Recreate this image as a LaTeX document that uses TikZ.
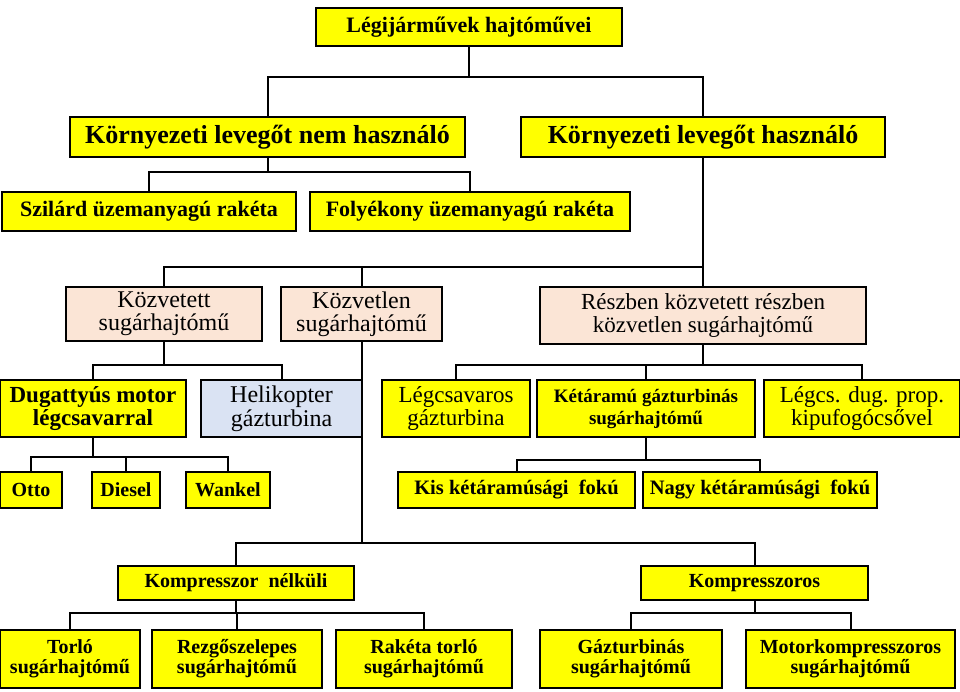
\documentclass[tikz,border=0pt]{standalone}
\usepackage{fontspec}
\setmainfont{Liberation Serif}
\definecolor{yel}{HTML}{FFFF00}
\definecolor{pch}{HTML}{FBE5D6}
\definecolor{blu}{HTML}{DAE3F3}
\tikzset{
 bx/.style={draw=black,line width=2pt,inner sep=0pt,outer sep=0pt,align=center,font=\bfseries,fill=yel},
 pbox/.style={bx,fill=pch,font=\normalfont},
 hbox/.style={bx,fill=blu,font=\normalfont},
 ln/.style={line width=2pt}
}
\newcommand\mybx[7]{\node[#6,minimum width={#4-#2},minimum height={#5-#3}] (#1) at ({(#2+#4)/2},{(#3+#5)/2}) {#7};}
\newcommand\fs[1]{\fontsize{#1}{#1}\selectfont}
\begin{document}
\begin{tikzpicture}[x=1pt,y=-1pt]
\useasboundingbox (0,0) rectangle (960,692);
\fill[white] (0,0) rectangle (960,692);
\draw[ln] (469,46) -- (469,77);
\mybx{t}{316}{8}{622}{46}{bx,font=\bfseries\fs{22}}{Légijárművek hajtóművei}
\mybx{a}{70}{117}{465}{157}{bx,font=\bfseries\fs{26}}{Környezeti levegőt nem használó}
\mybx{b}{521}{117}{885}{157}{bx,font=\bfseries\fs{26}}{Környezeti levegőt használó}
\mybx{a1}{2}{192}{296}{231}{bx,font=\bfseries\fs{22}}{Szilárd üzemanyagú rakéta}
\mybx{a2}{310}{192}{630}{231}{bx,font=\bfseries\fs{22}}{Folyékony üzemanyagú rakéta}
\mybx{k1}{66}{287}{262}{341}{pbox,font=\fs{24}}{Közvetett\\[-1pt]sugárhajtómű}
\mybx{k2}{281}{287}{442}{341}{pbox,font=\fs{24}}{Közvetlen\\[-1pt]sugárhajtómű}
\mybx{k3}{540}{287}{866}{344}{pbox,font=\fs{23}}{Részben közvetett részben\\közvetlen sugárhajtómű}
\mybx{d}{0}{380}{186}{437}{bx,font=\bfseries\fs{23}}{Dugattyús motor\\légcsavarral}
\mybx{h}{201}{380}{362}{437}{hbox,font=\fs{24}}{Helikopter\\gázturbina}
\mybx{l}{382}{380}{530}{437}{bx,font=\normalfont\fs{23}}{Légcsavaros\\gázturbina}
\mybx{ke}{537}{380}{755}{437}{bx,font=\bfseries\fs{19}}{Kétáramú gázturbinás\\[3pt]sugárhajtómű}
\mybx{lc}{764}{380}{960}{437}{bx,font=\normalfont\fs{23}}{Légcs. dug. prop.\\kipufogócsővel}
\mybx{o}{0}{472}{62}{508}{bx,font=\bfseries\fs{20}}{Otto}
\mybx{di}{92}{472}{160}{508}{bx,font=\bfseries\fs{20}}{Diesel}
\mybx{w}{186}{472}{270}{508}{bx,font=\bfseries\fs{20}}{Wankel}
\mybx{ki}{398}{472}{635}{508}{bx,font=\bfseries\fs{20.5}}{Kis kétáramúsági\ \ fokú}
\mybx{na}{643}{472}{877}{508}{bx,font=\bfseries\fs{20.5}}{Nagy kétáramúsági\ \ fokú}
\mybx{kn}{118}{566}{354}{600}{bx,font=\bfseries\fs{20}}{Kompresszor\ \ nélküli}
\mybx{ks}{641}{566}{868}{600}{bx,font=\bfseries\fs{20}}{Kompresszoros}
\mybx{s1}{0}{630}{140}{688}{bx,font=\bfseries\fs{20}}{Torló\\sugárhajtómű}
\mybx{s2}{152}{630}{322}{688}{bx,font=\bfseries\fs{20}}{Rezgőszelepes\\sugárhajtómű}
\mybx{s3}{336}{630}{512}{688}{bx,font=\bfseries\fs{20}}{Rakéta torló\\sugárhajtómű}
\mybx{s4}{540}{630}{722}{688}{bx,font=\bfseries\fs{20}}{Gázturbinás\\sugárhajtómű}
\mybx{s5}{746}{630}{955}{688}{bx,font=\bfseries\fs{20}}{Motorkompresszoros\\sugárhajtómű}
\draw[ln] (t.south) -- ++(0,31) -| (a.north);
\draw[ln] (t.south) -- ++(0,31) -| (b.north);
\draw[ln] (a.south) -- ++(0,15) -| (a1.north);
\draw[ln] (a.south) -- ++(0,15) -| (a2.north);
\draw[ln] (b.south) -- ++(0,110) -| (k1.north);
\draw[ln] (b.south) -- ++(0,110) -| (k2.north);
\draw[ln] (b.south) -- (k3.north);
\draw[ln] (k1.south) -- ++(0,24) -| (d.north);
\draw[ln] (k1.south) -- ++(0,24) -| (h.north);
\draw[ln] (k3.south) -- ++(0,21) -| (l.north);
\draw[ln] (k3.south) -- ++(0,21) -| (lc.north);
\draw[ln] (k3.south) -- ++(0,21) -| (ke.north);
\draw[ln] (d.south) -- ++(0,20) -| (o.north);
\draw[ln] (d.south) -- ++(0,20) -| (di.north);
\draw[ln] (d.south) -- ++(0,20) -| (w.north);
\draw[ln] (ke.south) -- ++(0,23) -| (ki.north);
\draw[ln] (ke.south) -- ++(0,23) -| (na.north);
\draw[ln] (k2.south) -- ++(0,202) -| (kn.north);
\draw[ln] (k2.south) -- ++(0,202) -| (ks.north);
\draw[ln] (kn.south) -- ++(0,13) -| (s1.north);
\draw[ln] (kn.south) -- ++(0,13) -| (s2.north);
\draw[ln] (kn.south) -- ++(0,13) -| (s3.north);
\draw[ln] (ks.south) -- ++(0,13) -| (s4.north);
\draw[ln] (ks.south) -- ++(0,13) -| (s5.north);
\end{tikzpicture}
\end{document}
